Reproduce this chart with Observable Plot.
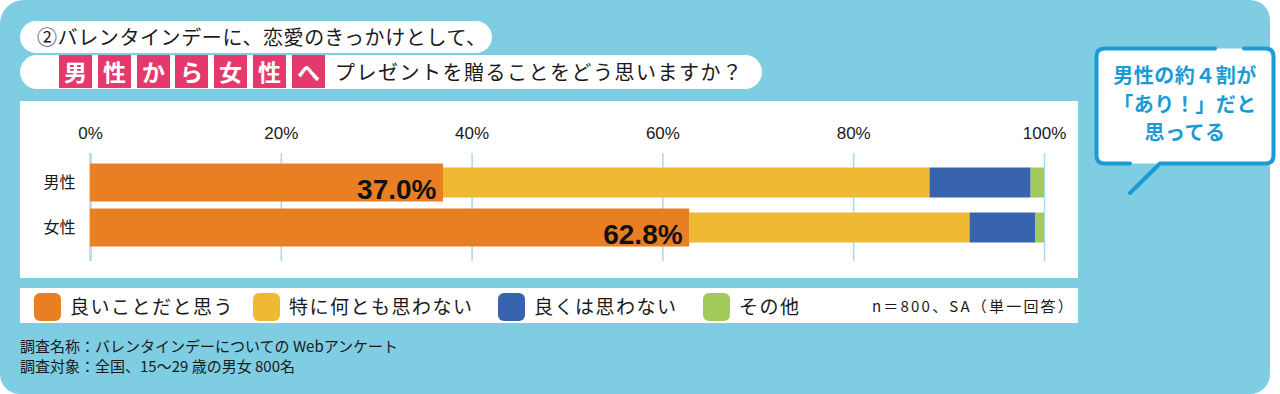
<!DOCTYPE html>
<html><head><meta charset="utf-8">
<script src="https://cdn.jsdelivr.net/npm/d3@7"></script>
<script src="https://cdn.jsdelivr.net/npm/@observablehq/plot@0.6"></script>
<style>
body{margin:0;background:#fff;font-family:"Noto Sans CJK JP",sans-serif;}
#root{position:relative;width:1280px;height:394px;overflow:hidden;background:#fff;}
.abs{position:absolute;}
.pink{position:absolute;top:55px;width:33px;height:33px;background:#e5386b;color:#fff;font-weight:bold;font-size:23px;line-height:33px;text-align:center;}
.sw{position:absolute;top:293px;width:27px;height:28px;border-radius:6px;}
.lt{position:absolute;top:288px;height:35px;line-height:35px;font-size:19px;letter-spacing:1.5px;color:#1a1a1a;}
.foot{position:absolute;left:20px;font-size:15px;color:#1a1a1a;white-space:nowrap;line-height:20px;}
</style></head><body>
<div id="root">
  <div class="abs" style="left:0;top:0;width:1270px;height:394px;background:#7fcde3;border-radius:24px 20px 20px 20px"></div>
  <div class="abs" style="left:20px;top:21px;width:472px;height:32px;border-radius:16px;background:#fff"></div>
  <div class="abs" style="left:37px;top:21px;height:32px;line-height:32px;font-size:20px;letter-spacing:0.6px;color:#1a1a1a;white-space:nowrap">②バレンタインデーに、恋愛のきっかけとして、</div>
  <div class="abs" style="left:20px;top:55px;width:742px;height:34px;border-radius:17px;background:#fff"></div>
  <div id="pinks"></div>
  <div class="abs" style="left:335px;top:55px;height:34px;line-height:34px;font-size:20px;letter-spacing:1.5px;color:#1a1a1a;white-space:nowrap">プレゼントを贈ることをどう思いますか？</div>
  <div id="chart" class="abs" style="left:20px;top:101px;width:1058px;height:177px;background:#fff"></div>
  <div class="abs" style="left:20px;top:288px;width:1058px;height:35px;background:#fff"></div>
  <div id="legend"></div>
  <div class="abs" style="left:872px;top:288px;height:35px;line-height:35px;font-size:15px;letter-spacing:2.2px;color:#1a1a1a;white-space:nowrap">n＝800、SA（単一回答）</div>
  <div class="foot" style="top:336px">調査名称：バレンタインデーについての Webアンケート</div>
  <div class="foot" style="top:356px">調査対象：全国、15～29 歳の男女 800名</div>
  <svg class="abs" style="left:0;top:0" width="1280" height="394">
    <rect x="1096.5" y="48.5" width="177" height="115" rx="8" fill="#fff"/>
    <path d="M1130,163.5 H1104.5 Q1096.5,163.5 1096.5,155.5 V56.5 Q1096.5,48.5 1104.5,48.5 H1215 M1244,48.5 H1265.5 Q1273.5,48.5 1273.5,56.5 V155.5 Q1273.5,163.5 1265.5,163.5 H1160 L1130,193" fill="none" stroke="#1b9ad6" stroke-width="4" stroke-linecap="round" stroke-linejoin="round"/>
  </svg>
  <div class="abs" style="left:1096px;top:61px;width:178px;text-align:center;font-size:20px;font-weight:bold;line-height:28.5px;letter-spacing:0.5px;color:#1b9ad6">男性の約４割が<br>「あり！」だと<br>思ってる</div>
</div>
<script>
const categories = ["男性", "女性"];
const responses = ["良いことだと思う", "特に何とも思わない", "良くは思わない", "その他"];
const maleValues = [37.0, 51.0, 10.6, 1.4];
const femaleValues = [62.8, 29.4, 6.9, 0.9];
const colors = ["#e97f23", "#f0b934", "#3764ad", "#a0cb5a"];
const ticks = [0, 20, 40, 60, 80, 100];
const highlight = "男性から女性へ";

const series = [maleValues, femaleValues];
const table = categories.flatMap((c, i) => responses.map((r, j) => ({category: c, response: r, value: series[i][j]})));
const firstRows = categories.map((c, i) => ({category: c, value: series[i][0]}));

// title pink boxes
const pinkX = [59, 98, 137, 175, 214, 253, 292];
document.getElementById("pinks").innerHTML = [...highlight].map((ch, i) =>
  `<div class="pink" style="left:${pinkX[i]}px">${ch}</div>`).join("");

// legend
const swX = [34, 253, 498, 703];
document.getElementById("legend").innerHTML = responses.map((r, i) =>
  `<div class="sw" style="left:${swX[i]}px;background:${colors[i]}"></div><div class="lt" style="left:${swX[i] + 36}px">${r}</div>`).join("");

const chart = Plot.plot({
  width: 1058, height: 177,
  marginLeft: 70, marginRight: 34, marginTop: 52, marginBottom: 17,
  style: {background: "transparent", fontFamily: "'Noto Sans CJK JP', sans-serif", color: "#1a1a1a"},
  x: {domain: [0, 100], axis: null, label: null},
  y: {domain: categories, range: [59, 149], padding: 0, axis: null, label: null},
  color: {domain: responses, range: colors},
  marks: [
    Plot.gridX(ticks, {stroke: "#a8d9ec", strokeOpacity: 1, strokeWidth: 1.5}),
    Plot.ruleX([0], {stroke: "#b6e1f0", strokeWidth: 3}),
    Plot.barX(table, Plot.stackX({x: "value", y: "category", fill: "response", insetTop: 7.5, insetBottom: 7.5})),
    Plot.barX(firstRows, {x: "value", y: "category", fill: colors[0], insetTop: 3.5, insetBottom: 3.5}),
    Plot.text(firstRows, {x: "value", y: "category", text: d => d.value.toFixed(1) + "%", textAnchor: "end", dx: -7, dy: 7, fontSize: 28, fontWeight: "bold", fontFamily: "'Liberation Sans', Arial, sans-serif", fill: "#111"}),
    Plot.axisX(ticks, {anchor: "top", tickSize: 0, tickPadding: 15, tickFormat: d => d + "%", fontSize: 17, fontFamily: "'Liberation Sans', Arial, sans-serif", label: null}),
    Plot.axisY({tickSize: 0, tickPadding: 15, fontSize: 16, label: null})
  ]
});
document.getElementById("chart").appendChild(chart);
</script>
</body></html>
